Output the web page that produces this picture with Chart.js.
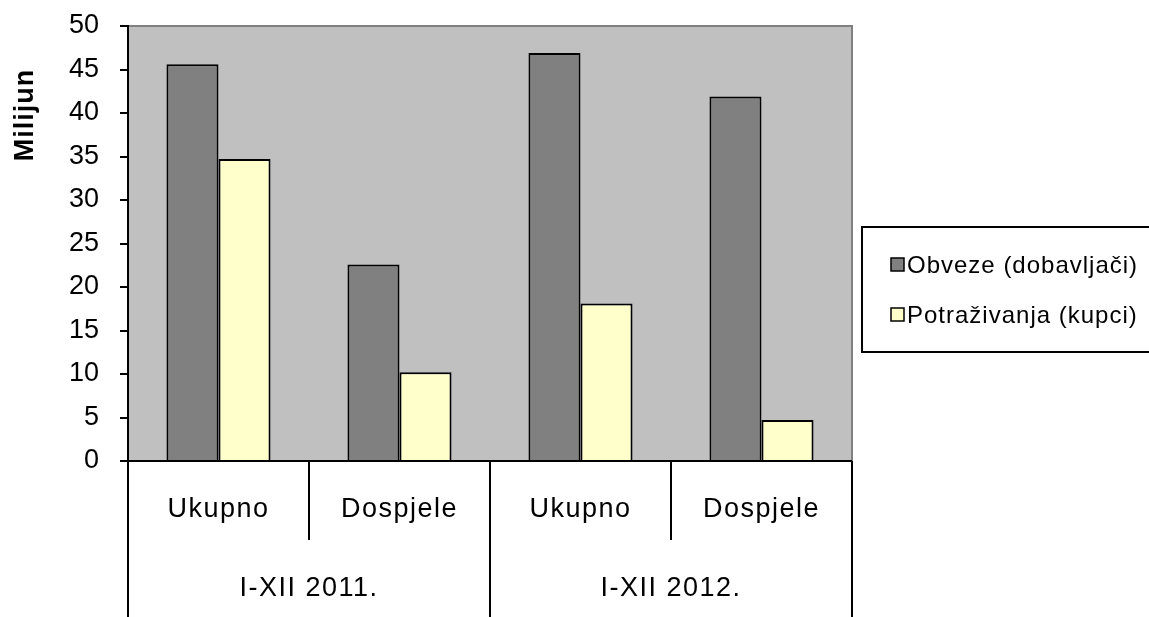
<!DOCTYPE html>
<html>
<head>
<meta charset="utf-8">
<script src="https://cdn.jsdelivr.net/npm/chart.js@4/dist/chart.umd.min.js"></script>
<style>
  html, body { margin: 0; padding: 0; background: #fff; }
  #wrap { width: 1149px; height: 617px; position: relative; }
</style>
</head>
<body>
<div id="wrap"><canvas id="bar_chart"></canvas></div>
<script>
// data
var categories = ["Ukupno", "Dospjele", "Ukupno", "Dospjele"];
var groups = ["I-XII 2011.", "I-XII 2012."];
var obveze = [45.6, 22.6, 46.9, 41.9];
var potrazivanja = [34.7, 10.2, 18.1, 4.7];
var yTicks = [0, 5, 10, 15, 20, 25, 30, 35, 40, 45, 50];

var FONT = "'Liberation Sans', Arial, sans-serif";

// plot background, hierarchical x labels, axis title and legend
var excelLook = {
    id: 'excelLook',
    beforeDraw: function (chart) {
        var ctx = chart.ctx, a = chart.chartArea;
        ctx.save();
        ctx.fillStyle = '#C0C0C0';
        ctx.fillRect(a.left, a.top, a.right - a.left, a.bottom - a.top);
        ctx.strokeStyle = '#808080';
        ctx.lineWidth = 2;
        ctx.beginPath();
        ctx.moveTo(a.left, a.top);
        ctx.lineTo(a.right, a.top);
        ctx.lineTo(a.right, a.bottom);
        ctx.stroke();
        ctx.restore();
    },
    afterDraw: function (chart) {
        var ctx = chart.ctx, a = chart.chartArea, x = chart.scales.x;
        var n = categories.length;
        var step = (a.right - a.left) / n;
        ctx.save();
        ctx.strokeStyle = '#000';
        ctx.lineWidth = 2;
        // x axis line
        ctx.beginPath();
        ctx.moveTo(a.left - 8, a.bottom);
        ctx.lineTo(a.right, a.bottom);
        ctx.stroke();
        // category dividers
        for (var i = 0; i <= n; i++) {
            var px = Math.round(a.left + i * step);
            var outer = (i % 2 === 0);
            ctx.beginPath();
            ctx.moveTo(px, a.bottom);
            ctx.lineTo(px, outer ? 617 : a.bottom + 79);
            ctx.stroke();
        }
        ctx.fillStyle = '#000';
        ctx.font = '27px ' + FONT;
        ctx.letterSpacing = '1.5px';
        ctx.textAlign = 'center';
        ctx.textBaseline = 'alphabetic';
        for (var c = 0; c < n; c++) {
            ctx.fillText(categories[c], x.getPixelForValue(c), a.bottom + 56);
        }
        for (var g = 0; g < groups.length; g++) {
            var gx = (x.getPixelForValue(g * 2) + x.getPixelForValue(g * 2 + 1)) / 2;
            ctx.fillText(groups[g], gx, a.bottom + 135);
        }
        // y axis title
        ctx.save();
        ctx.translate(33, 115);
        ctx.rotate(-Math.PI / 2);
        ctx.font = 'bold 27px ' + FONT;
        ctx.letterSpacing = '1px';
        ctx.fillText('Milijun', 0, 0);
        ctx.restore();
        // legend
        ctx.lineWidth = 2;
        ctx.letterSpacing = '1px';
        ctx.strokeRect(862, 227, 300, 125);
        ctx.font = '24px ' + FONT;
        ctx.textAlign = 'left';
        ctx.textBaseline = 'alphabetic';
        var rows = [265, 315];
        chart.data.datasets.forEach(function (ds, k) {
            ctx.fillStyle = ds.backgroundColor;
            ctx.lineWidth = 1.5;
            ctx.fillRect(891, rows[k] - 7, 13, 13);
            ctx.strokeRect(891, rows[k] - 7, 13, 13);
            ctx.fillStyle = '#000';
            ctx.fillText(ds.label, 907, rows[k] + 8);
        });
        ctx.restore();
    }
};

new Chart(document.getElementById("bar_chart").getContext("2d"), {
    type: 'bar',
    data: {
        labels: categories,
        datasets: [{
            label: "Obveze (dobavljači)",
            data: obveze,
            backgroundColor: '#808080',
            borderColor: '#000',
            borderWidth: 2
        }, {
            label: "Potraživanja (kupci)",
            data: potrazivanja,
            backgroundColor: '#FFFFCC',
            borderColor: '#000',
            borderWidth: 2
        }]
    },
    options: {
        responsive: true,
        maintainAspectRatio: false,
        animation: false,
        layout: { padding: { top: 26, right: 297, bottom: 0, left: 0 } },
        plugins: { legend: { display: false }, tooltip: { enabled: false } },
        datasets: { bar: { categoryPercentage: 0.575, barPercentage: 1.0 } },
        scales: {
            x: {
                ticks: { display: false },
                grid: { display: false },
                border: { display: false },
                afterFit: function (s) { s.height = 156; }
            },
            y: {
                min: 0,
                max: 50,
                afterFit: function (s) { s.width = 128; s.paddingTop = 0; s.paddingBottom = 0; },
                afterBuildTicks: function (s) { s.ticks = yTicks.map(function (v) { return { value: v }; }); },
                ticks: { color: '#000', font: { family: FONT, size: 27 }, padding: 21 },
                grid: { drawOnChartArea: false, color: '#000', lineWidth: 2, tickLength: 8 },
                border: { color: '#000', width: 2 }
            }
        }
    },
    plugins: [excelLook]
});
</script>
</body>
</html>
